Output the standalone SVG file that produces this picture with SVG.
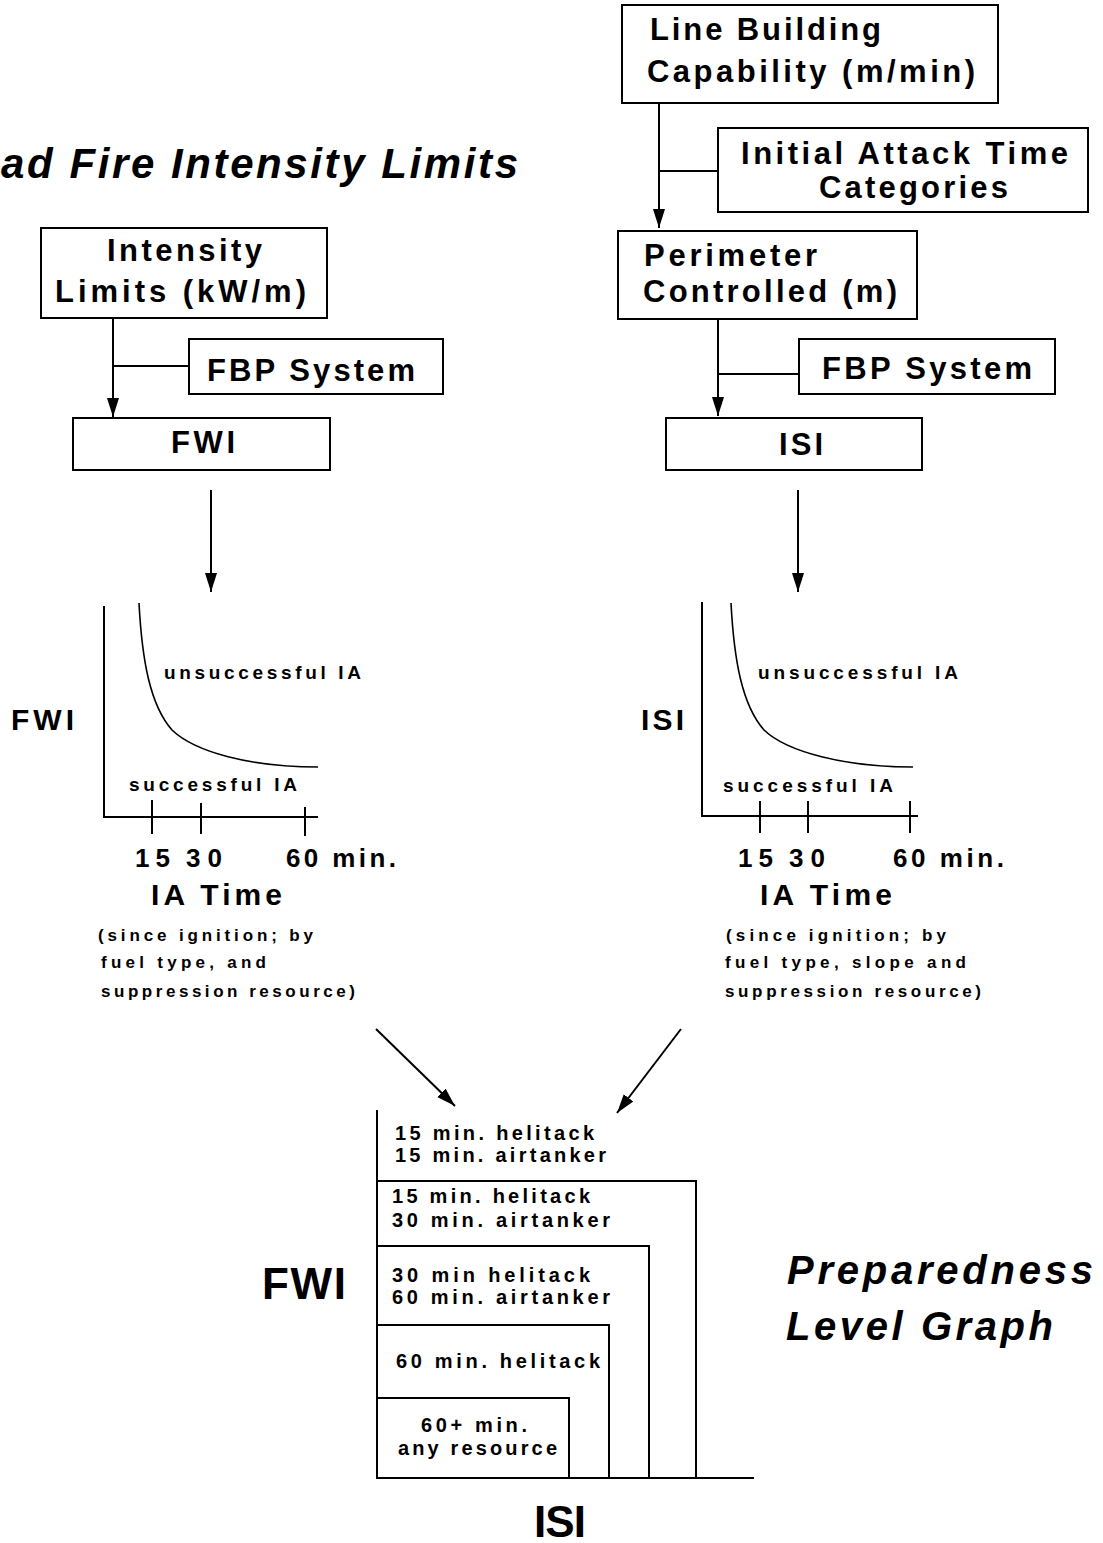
<svg xmlns="http://www.w3.org/2000/svg" width="1103" height="1543" viewBox="0 0 1103 1543">
<style>
text{font-family:"Liberation Sans",Arial,Helvetica,sans-serif;font-weight:bold;fill:#000}
.t{font-size:42px;font-style:italic}
.b{font-size:31px}
.s{font-size:19px}
.n{font-size:17px}
.p{font-size:20px}
.ax{font-size:30px}
.tk{font-size:26px}
.ia{font-size:30px}
.big{font-size:44px}
rect{fill:#fff;stroke:#000;stroke-width:2}
.ln{fill:none;stroke:#000;stroke-width:2}
.cv{fill:none;stroke:#000;stroke-width:1.6}
</style>
<defs>
<marker id="ah" markerUnits="userSpaceOnUse" markerWidth="20" markerHeight="14" refX="19" refY="7" orient="auto">
<path d="M0,1 L19,7 L0,13 z" fill="#000"/>
</marker>
</defs>
<rect x="0" y="0" width="1103" height="1543" style="fill:#fff;stroke:none"/>

<text class="t" x="1" y="178" textLength="517" lengthAdjust="spacing">ad Fire Intensity Limits</text>

<g id="connectors">
<path class="ln" d="M113,319 V417" marker-end="url(#ah)"/>
<path class="ln" d="M113,366 H189"/>
<path class="ln" d="M659,103 V228" marker-end="url(#ah)"/>
<path class="ln" d="M659,171 H718"/>
<path class="ln" d="M718,319 V416" marker-end="url(#ah)"/>
<path class="ln" d="M718,374 H799"/>
<path class="ln" d="M211,490 V592" marker-end="url(#ah)"/>
<path class="ln" d="M798,490 V592" marker-end="url(#ah)"/>
<path class="ln" d="M376,1029 L455,1106" marker-end="url(#ah)"/>
<path class="ln" d="M681,1029 L617,1113" marker-end="url(#ah)"/>
</g>

<g id="intensity-limits">
<rect x="41" y="228" width="286" height="90"/>
<text class="b" x="107" y="261" textLength="155" lengthAdjust="spacing">Intensity</text>
<text class="b" x="55" y="302" textLength="251" lengthAdjust="spacing">Limits (kW/m)</text>
</g>
<g id="fbp-left">
<rect x="189" y="339" width="254" height="55"/>
<text class="b" x="207" y="381" textLength="208" lengthAdjust="spacing">FBP System</text>
</g>
<g id="fwi-box">
<rect x="73" y="418" width="257" height="52"/>
<text class="b" x="171" y="453" textLength="64" lengthAdjust="spacing">FWI</text>
</g>

<g id="line-building">
<rect x="622" y="5" width="376" height="98"/>
<text class="b" x="650" y="40" textLength="231" lengthAdjust="spacing">Line Building</text>
<text class="b" x="647" y="82" textLength="328" lengthAdjust="spacing">Capability (m/min)</text>
</g>
<g id="ia-time-categories">
<rect x="718" y="128" width="370" height="84"/>
<text class="b" x="741" y="164" textLength="327" lengthAdjust="spacing">Initial Attack Time</text>
<text class="b" x="819" y="198" textLength="189" lengthAdjust="spacing">Categories</text>
</g>
<g id="perimeter">
<rect x="618" y="231" width="299" height="88"/>
<text class="b" x="644" y="266" textLength="173" lengthAdjust="spacing">Perimeter</text>
<text class="b" x="643" y="302" textLength="254" lengthAdjust="spacing">Controlled (m)</text>
</g>
<g id="fbp-right">
<rect x="799" y="339" width="256" height="55"/>
<text class="b" x="822" y="379" textLength="210" lengthAdjust="spacing">FBP System</text>
</g>
<g id="isi-box">
<rect x="666" y="418" width="256" height="52"/>
<text class="b" x="779" y="455" textLength="44" lengthAdjust="spacing">ISI</text>
</g>

<g id="fwi-chart">
<path class="ln" d="M104,606 V817 H318"/>
<path class="ln" d="M152,800 V834 M201,803 V834 M305,807 V836"/>
<path class="cv" d="M139,603 C142,660 150,705 172,730 C195,752 250,767 318,767"/>
<text class="s" x="164" y="679" textLength="197" lengthAdjust="spacing">unsuccessful IA</text>
<text class="s" x="129" y="791" textLength="168" lengthAdjust="spacing">successful IA</text>
<text class="ax" x="11" y="730" textLength="63" lengthAdjust="spacing">FWI</text>
<text class="tk" x="135" y="867" textLength="35" lengthAdjust="spacing">15</text>
<text class="tk" x="186" y="867" textLength="36" lengthAdjust="spacing">30</text>
<text class="tk" x="286" y="867" textLength="110" lengthAdjust="spacing">60 min.</text>
<text class="ia" x="151" y="905" textLength="131" lengthAdjust="spacing">IA Time</text>
<text class="n" x="98" y="941" textLength="215" lengthAdjust="spacing">(since ignition; by</text>
<text class="n" x="101" y="968" textLength="165" lengthAdjust="spacing">fuel type, and</text>
<text class="n" x="101" y="997" textLength="254" lengthAdjust="spacing">suppression resource)</text>
</g>

<g id="isi-chart">
<path class="ln" d="M702,602 V816 H918"/>
<path class="ln" d="M760,801 V833 M808,801 V833 M910,801 V833"/>
<path class="cv" d="M731,603 C734,660 742,705 764,730 C787,752 845,767 913,767"/>
<text class="s" x="758" y="679" textLength="200" lengthAdjust="spacing">unsuccessful IA</text>
<text class="s" x="723" y="792" textLength="170" lengthAdjust="spacing">successful IA</text>
<text class="ax" x="641" y="730" textLength="43" lengthAdjust="spacing">ISI</text>
<text class="tk" x="738" y="867" textLength="35" lengthAdjust="spacing">15</text>
<text class="tk" x="789" y="867" textLength="36" lengthAdjust="spacing">30</text>
<text class="tk" x="893" y="867" textLength="111" lengthAdjust="spacing">60 min.</text>
<text class="ia" x="760" y="905" textLength="132" lengthAdjust="spacing">IA Time</text>
<text class="n" x="726" y="941" textLength="220" lengthAdjust="spacing">(since ignition; by</text>
<text class="n" x="725" y="968" textLength="241" lengthAdjust="spacing">fuel type, slope and</text>
<text class="n" x="725" y="997" textLength="256" lengthAdjust="spacing">suppression resource)</text>
</g>

<g id="preparedness-graph">
<path class="ln" d="M377,1110 V1478 H754"/>
<path class="ln" d="M377,1181 H696 V1478"/>
<path class="ln" d="M377,1246 H649 V1478"/>
<path class="ln" d="M377,1325 H609 V1478"/>
<path class="ln" d="M377,1398 H569 V1478"/>
<text class="p" x="395" y="1140" textLength="199" lengthAdjust="spacing">15 min. helitack</text>
<text class="p" x="395" y="1162" textLength="211" lengthAdjust="spacing">15 min. airtanker</text>
<text class="p" x="392" y="1203" textLength="198" lengthAdjust="spacing">15 min. helitack</text>
<text class="p" x="392" y="1227" textLength="218" lengthAdjust="spacing">30 min. airtanker</text>
<text class="p" x="392" y="1282" textLength="198" lengthAdjust="spacing">30 min helitack</text>
<text class="p" x="392" y="1304" textLength="218" lengthAdjust="spacing">60 min. airtanker</text>
<text class="p" x="396" y="1368" textLength="204" lengthAdjust="spacing">60 min. helitack</text>
<text class="p" x="421" y="1432" textLength="106" lengthAdjust="spacing">60+ min.</text>
<text class="p" x="398" y="1455" textLength="159" lengthAdjust="spacing">any resource</text>
<text class="big" x="262" y="1299" textLength="84" lengthAdjust="spacing">FWI</text>
<text class="big" x="534" y="1537" textLength="52" lengthAdjust="spacing">ISI</text>
<text class="t" x="787" y="1284" style="font-size:40px" textLength="306" lengthAdjust="spacing">Preparedness</text>
<text class="t" x="786" y="1340" style="font-size:40px" textLength="267" lengthAdjust="spacing">Level Graph</text>
</g>
</svg>
